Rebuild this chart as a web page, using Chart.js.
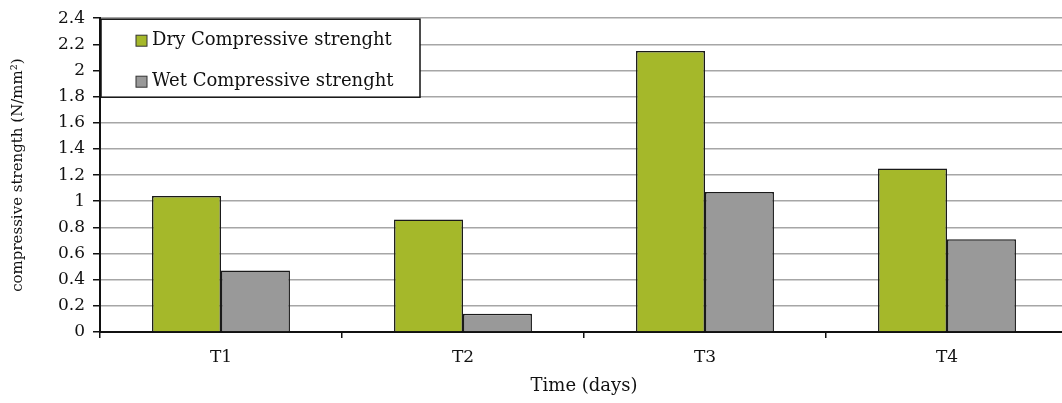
<!DOCTYPE html>
<html>
<head>
<meta charset="utf-8">
<script src="https://cdn.jsdelivr.net/npm/chart.js@4.4.1/dist/chart.umd.min.js"></script>
<style>
  html, body { margin: 0; padding: 0; background: #fff; overflow: hidden; }
  #wrap { width: 1062px; height: 403px; overflow: hidden; }
</style>
</head>
<body>
<div id="wrap"><canvas id="chart" width="1069" height="403"></canvas></div>
<script>
// Data
const categories = ['T1', 'T2', 'T3', 'T4'];
const dryValues = [1.04, 0.86, 2.15, 1.25];
const wetValues = [0.47, 0.14, 1.07, 0.71];
const seriesLabels = ['Dry Compressive strenght', 'Wet Compressive strenght'];
const yTicks = [0, 0.2, 0.4, 0.6, 0.8, 1, 1.2, 1.4, 1.6, 1.8, 2, 2.2, 2.4];

const FONT = '"DejaVu Serif", "Liberation Serif", serif';
const GREEN = '#a5b82a';
const GRAY = '#999999';

// legend box drawn inside the plot, top-left
const boxLegend = {
    id: 'boxLegend',
    afterDraw(chart) {
        const ctx = chart.ctx;
        const area = chart.chartArea;
        const x = area.left + 1, y = area.top + 1, w = 319, h = 78;
        ctx.save();
        ctx.fillStyle = '#fff';
        ctx.fillRect(x, y, w, h);
        ctx.strokeStyle = '#111';
        ctx.lineWidth = 1.5;
        ctx.strokeRect(x, y, w, h);
        ctx.font = '18px ' + FONT;
        ctx.textBaseline = 'middle';
        chart.data.datasets.forEach((ds, i) => {
            const rowY = y + 21 + i * 41;
            ctx.fillStyle = ds.backgroundColor;
            ctx.fillRect(x + 35, rowY - 5, 11, 11);
            ctx.strokeStyle = '#333';
            ctx.lineWidth = 1;
            ctx.strokeRect(x + 35, rowY - 5, 11, 11);
            ctx.fillStyle = '#111';
            ctx.fillText(ds.label, x + 51, rowY);
        });
        ctx.restore();
    }
};

const ctx = document.getElementById('chart').getContext('2d');
new Chart(ctx, {
    type: 'bar',
    data: {
        labels: categories,
        datasets: [{
            label: seriesLabels[0],
            data: dryValues,
            backgroundColor: GREEN,
            borderColor: '#1a1a1a',
            borderWidth: 1.5,
            categoryPercentage: 0.57,
            barPercentage: 1
        }, {
            label: seriesLabels[1],
            data: wetValues,
            backgroundColor: GRAY,
            borderColor: '#1a1a1a',
            borderWidth: 1.5,
            categoryPercentage: 0.57,
            barPercentage: 1
        }]
    },
    options: {
        responsive: false,
        animation: false,
        devicePixelRatio: 1,
        layout: { padding: { top: 18, right: 1, left: 0, bottom: 0 } },
        plugins: {
            legend: { display: false },
            tooltip: { enabled: false }
        },
        scales: {
            x: {
                grid: {
                    offset: true,
                    drawOnChartArea: false,
                    color: '#111',
                    lineWidth: 1.5,
                    tickLength: 6
                },
                border: { color: '#111', width: 2 },
                ticks: {
                    color: '#111',
                    font: { family: FONT, size: 17 },
                    padding: 9
                },
                title: {
                    display: true,
                    text: 'Time (days)',
                    color: '#111',
                    font: { family: FONT, size: 18 },
                    padding: { top: 6, bottom: 6 }
                },
                afterFit(axis) { axis.height = 71; }
            },
            y: {
                min: 0,
                max: 2.4,
                afterBuildTicks(axis) {
                    axis.ticks = yTicks.map(v => ({ value: v }));
                },
                grid: {
                    color: '#a6a6a6',
                    lineWidth: 1.5,
                    tickLength: 7,
                    tickColor: '#111'
                },
                border: { color: '#111', width: 2 },
                ticks: {
                    color: '#111',
                    font: { family: FONT, size: 17 },
                    padding: 8,
                    callback: v => String(Math.round(v * 10) / 10)
                },
                title: {
                    display: true,
                    text: 'compressive strength (N/mm²)',
                    color: '#111',
                    font: { family: FONT, size: 15 },
                    padding: { top: 9, bottom: 0 }
                },
                afterFit(axis) { axis.width = 100; }
            }
        }
    },
    plugins: [boxLegend]
});
</script>
</body>
</html>
